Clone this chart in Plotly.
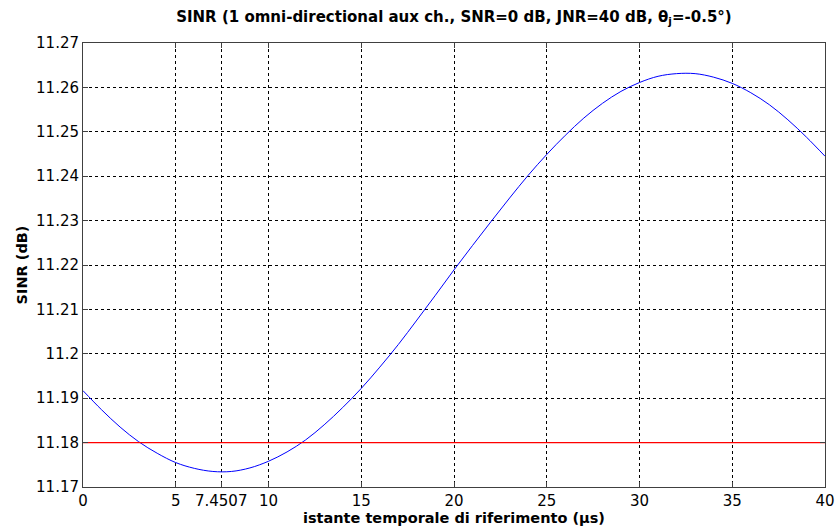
import plotly.graph_objects as go

# Data
t_us = list(range(0, 41))
sinr_db = [11.1917, 11.1874, 11.1835, 11.1802, 11.1776, 11.1755, 11.1742, 11.1735,
           11.1735, 11.1743, 11.1758, 11.1779, 11.1806, 11.1840, 11.1879, 11.1922,
           11.1970, 11.2021, 11.2076, 11.2132, 11.2189, 11.2244, 11.2298, 11.2351,
           11.2402, 11.2449, 11.2492, 11.2531, 11.2564, 11.2591, 11.2611, 11.2625,
           11.2631, 11.2631, 11.2623, 11.2609, 11.2588, 11.2561, 11.2527, 11.2488,
           11.2445]
threshold_x = [0, 40]
threshold_y = [11.18, 11.18]

x_tickvals = [0, 5, 7.4507, 10, 15, 20, 25, 30, 35, 40]
x_ticktext = ["0", "5", "7.4507", "10", "15", "20", "25", "30", "35", "40"]
y_tickvals = [11.17, 11.18, 11.19, 11.20, 11.21, 11.22, 11.23, 11.24, 11.25, 11.26, 11.27]
y_ticktext = ["11.17", "11.18", "11.19", "11.2", "11.21", "11.22", "11.23", "11.24",
              "11.25", "11.26", "11.27"]

FONT = "DejaVu Sans, Liberation Sans, Arial, sans-serif"

fig = go.Figure()
fig.add_trace(go.Scatter(x=t_us, y=sinr_db, mode="lines", line=dict(color="#0000ff", width=1, shape="spline"),
                         showlegend=False, hoverinfo="skip"))
fig.add_trace(go.Scatter(x=threshold_x, y=threshold_y, mode="lines", line=dict(color="#ff0000", width=1.2),
                         showlegend=False, hoverinfo="skip"))

axis_common = dict(
    showline=True, linecolor="#404040", linewidth=1, mirror="ticks",
    ticks="inside", ticklen=5, tickcolor="#404040",
    showgrid=True, gridcolor="#000000", gridwidth=1, griddash="3px,3px",
    zeroline=False, automargin=False,
    tickfont=dict(family=FONT, size=15, color="#000000"),
)

fig.update_layout(
    width=836, height=530,
    margin=dict(l=83, r=11, t=43, b=43),
    paper_bgcolor="white", plot_bgcolor="white",
    title=dict(text="<b>SINR (1 omni-directional aux ch., SNR=0 dB, JNR=40 dB, θ<sub>j</sub>=-0.5°)</b>",
               x=0.543, xanchor="center", y=0.968, yanchor="middle",
               font=dict(family=FONT, size=15, color="#000000")),
    xaxis=dict(range=[0, 40], tickvals=x_tickvals, ticktext=x_ticktext, ticklabelstandoff=0,
               title=dict(text="<b>istante temporale di riferimento (µs)</b>", standoff=0,
                          font=dict(family=FONT, size=14.5, color="#000000")),
               **axis_common),
    yaxis=dict(range=[11.17, 11.27], tickvals=y_tickvals, ticktext=y_ticktext,
               title=dict(text="<b>SINR (dB)</b>", standoff=4,
                          font=dict(family=FONT, size=14.5, color="#000000")),
               **axis_common),
)

fig.write_html("out.html")
